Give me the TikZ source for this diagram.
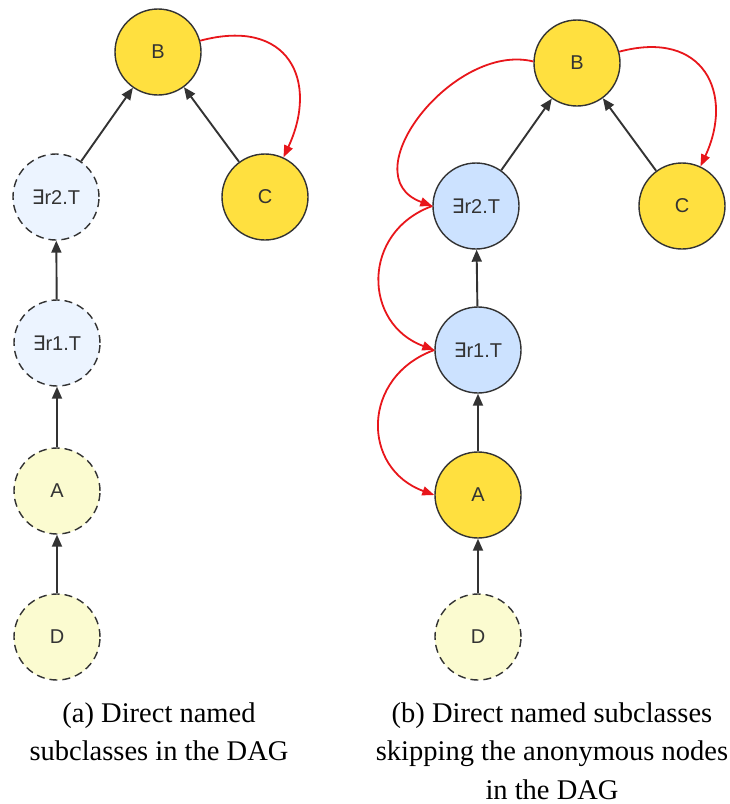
\documentclass[tikz,border=0pt]{standalone}
\usepackage{fontspec}
\setmainfont{Liberation Serif}
\newfontfamily\labelfont{Liberation Sans}
\newfontfamily\symfont{DejaVu Sans}
\usetikzlibrary{arrows.meta}

\definecolor{edgec}{HTML}{333333}
\definecolor{namedfill}{HTML}{FFE03F}
\definecolor{anonfill}{HTML}{CCE2FF}
\definecolor{anonpale}{HTML}{ECF4FF}
\definecolor{namedpale}{HTML}{FBFBD0}
\definecolor{skipc}{HTML}{E8161B}

\newcommand{\exsym}{{\symfont ∃}}

\tikzset{
  concept/.style={circle, minimum size=86pt, inner sep=0pt, draw=edgec,
    line width=1.4pt, text=edgec, font=\labelfont\fontsize{20}{23}\selectfont},
  named/.style={concept, fill=namedfill},
  anon/.style={concept, fill=anonfill},
  anonghost/.style={concept, fill=anonpale, dash pattern=on 8pt off 5pt},
  namedghost/.style={concept, fill=namedpale, dash pattern=on 8pt off 5pt},
  isa/.style={draw=edgec, line width=1.9pt, -{Triangle[length=12pt,width=10pt]}},
  skip/.style={draw=skipc, line width=1.8pt, -{Triangle[length=12pt,width=9pt]}},
  caption/.style={anchor=base, inner sep=0pt, font=\fontsize{28.5}{34}\selectfont}
}

\begin{document}
\begin{tikzpicture}[x=1pt, y=1pt]
\useasboundingbox (0,0) rectangle (729,-804);

% (a) direct named subclasses
\node[named]      (Ba)  at (158,-52)  {B};
\node[anonghost]  (E2a) at (56,-197)  {\exsym r2.T};
\node[named]      (Ca)  at (265,-197) {C};
\node[anonghost]  (E1a) at (57,-343)  {\exsym r1.T};
\node[namedghost] (Aa)  at (57,-491)  {A};
\node[namedghost] (Da)  at (57,-637)  {D};

\draw[isa] (E2a) -- (Ba);
\draw[isa] (Ca) -- (Ba);
\draw[isa] (E1a) -- (E2a);
\draw[isa] (Aa) -- (E1a);
\draw[isa] (Da) -- (Aa);
\draw[skip] (Ba) to[out=15, in=65, out distance=92pt, in distance=84pt] (Ca);

% (b) skipping the anonymous nodes
\node[named]      (Bb)  at (577,-63)  {B};
\node[anon]       (E2b) at (476,-206) {\exsym r2.T};
\node[named]      (Cb)  at (682,-206) {C};
\node[anon]       (E1b) at (478,-350) {\exsym r1.T};
\node[named]      (Ab)  at (478,-495) {A};
\node[namedghost] (Db)  at (478,-637) {D};

\draw[isa] (E2b) -- (Bb);
\draw[isa] (Cb) -- (Bb);
\draw[isa] (E1b) -- (E2b);
\draw[isa] (Ab) -- (E1b);
\draw[isa] (Db) -- (Ab);
\draw[skip] (Bb) to[out=15, in=65, out distance=88pt, in distance=80pt] (Cb);
\draw[skip] (Bb.178) to[out=166, in=160, out distance=82pt, in distance=88pt] (E2b.west);
\draw[skip] (E2b.west) to[out=200, in=160, out distance=76pt, in distance=76pt] (E1b.west);
\draw[skip] (E1b.west) to[out=200, in=160, out distance=78pt, in distance=78pt] (Ab.west);

% captions
\node[caption] (capa1) at (159,-722) {(a) Direct named};
\node[caption] (capa2) at (159,-760.5) {subclasses in the DAG};
\node[caption] (capb1) at (552,-722) {(b) Direct named subclasses};
\node[caption] (capb2) at (552,-760.5) {skipping the anonymous nodes};
\node[caption] (capb3) at (552,-799) {in the DAG};
\end{tikzpicture}
\end{document}
